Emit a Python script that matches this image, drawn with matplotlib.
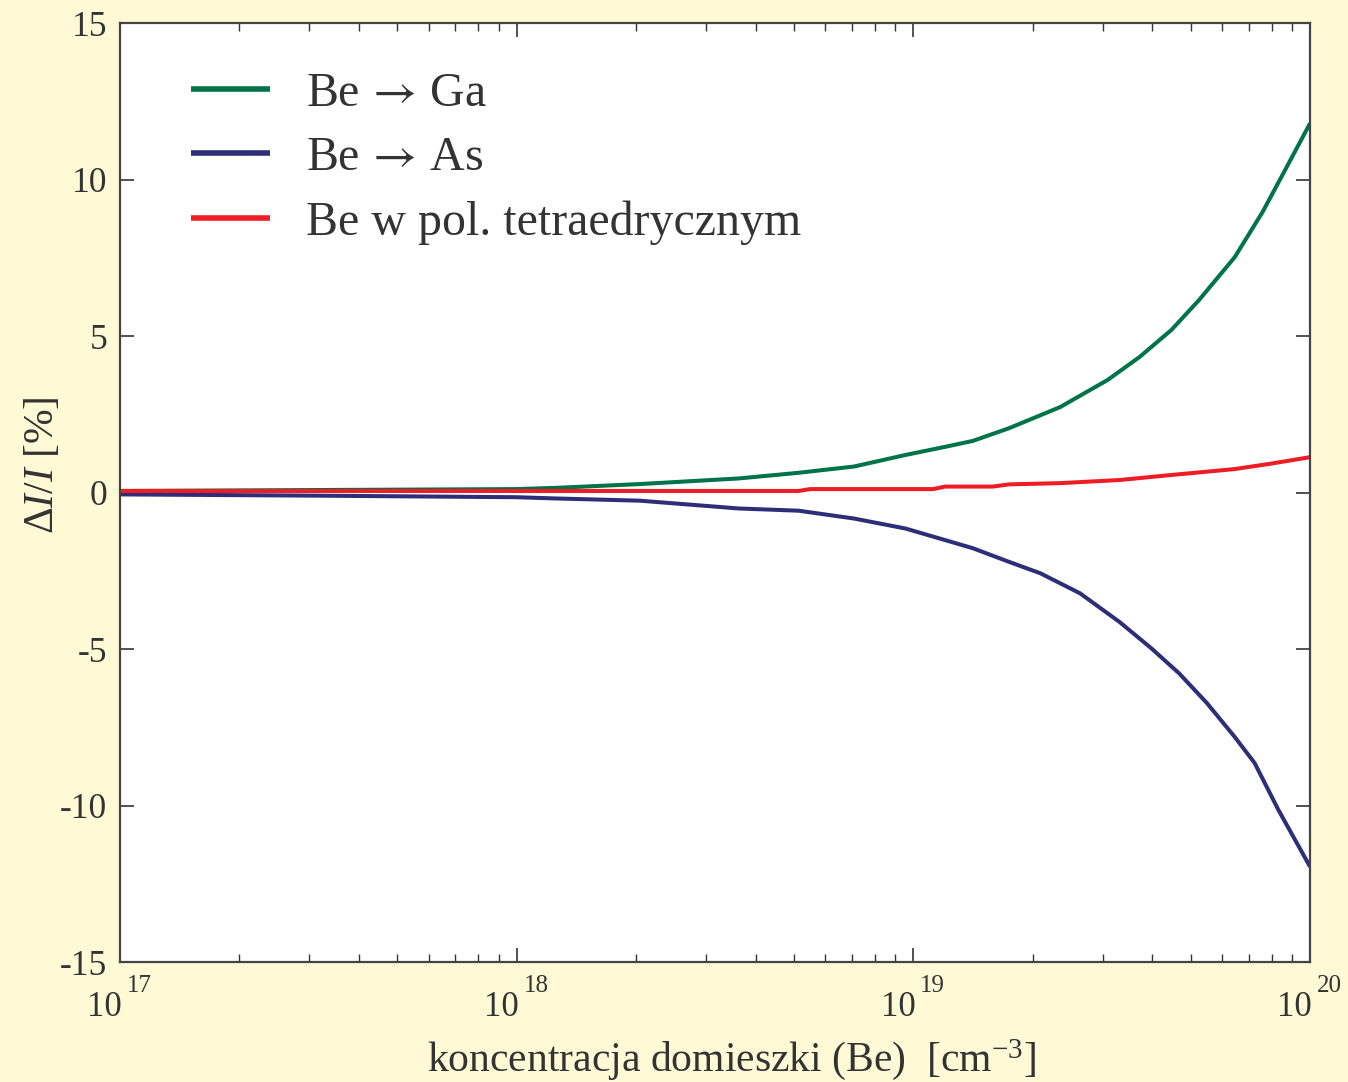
import numpy as np
import matplotlib
matplotlib.use("Agg")
import matplotlib.pyplot as plt
import matplotlib.transforms as mtransforms
from matplotlib.ticker import LogLocator, NullFormatter, FixedLocator

plt.rcParams['font.family'] = ['Liberation Serif', 'DejaVu Serif']
plt.rcParams['mathtext.fontset'] = 'custom'
plt.rcParams['mathtext.rm'] = 'Liberation Serif'
plt.rcParams['mathtext.it'] = 'Liberation Serif:italic'
plt.rcParams['axes.unicode_minus'] = False

# log10 of concentration and dI/I [%]
ga_logx = [17.0, 17.5, 18.0, 18.1, 18.31, 18.56, 18.71, 18.85, 18.98, 19.08, 19.15,
           19.24, 19.37, 19.49, 19.57, 19.65, 19.72, 19.81, 19.88, 19.93, 20.0]
ga_val = [0.05, 0.08, 0.11, 0.15, 0.27, 0.45, 0.63, 0.83, 1.2, 1.46, 1.65,
          2.05, 2.73, 3.6, 4.33, 5.19, 6.15, 7.52, 8.96, 10.14, 11.8]

as_logx = [17.0, 17.5, 18.0, 18.1, 18.31, 18.56, 18.71, 18.85, 18.98, 19.08, 19.15,
           19.24, 19.32, 19.42, 19.52, 19.6, 19.67, 19.74, 19.81, 19.86, 19.92, 20.0]
as_val = [-0.06, -0.1, -0.15, -0.19, -0.26, -0.51, -0.58, -0.83, -1.15, -1.52, -1.78,
          -2.21, -2.58, -3.22, -4.14, -4.98, -5.78, -6.73, -7.81, -8.64, -10.14, -11.96]

tet_logx = [17.0, 18.0, 18.71, 18.74, 19.05, 19.08, 19.2, 19.24, 19.37, 19.52,
            19.65, 19.81, 19.9, 20.0]
tet_val = [0.05, 0.05, 0.05, 0.11, 0.11, 0.19, 0.19, 0.26, 0.3, 0.4,
           0.56, 0.75, 0.92, 1.13]

decades = [17, 18, 19, 20]
labels = [r'Be $\!\rightarrow\!$ Ga', r'Be $\!\rightarrow\!$ As', 'Be w pol. tetraedrycznym']
colors = ['#00734A', '#2E2E78', '#EE1C25']

bg = '#FFF9D6'
ink = '#333333'

fig = plt.figure(figsize=(13.48, 10.82), dpi=100, facecolor=bg)
ax = fig.add_axes([0.089, 0.1109, 0.8829, 0.8678])
ax.set_facecolor('white')

for lx, v, lab, c in zip([ga_logx, as_logx, tet_logx], [ga_val, as_val, tet_val], labels, colors):
    ax.plot(10 ** np.array(lx), v, color=c, lw=2.9, label=lab, solid_capstyle='butt')

ax.set_xscale('log')
ax.set_xlim(1e17, 1e20)
ax.set_ylim(-15, 15)
ax.yaxis.set_major_locator(FixedLocator([-15, -10, -5, 0, 5, 10, 15]))
ax.xaxis.set_minor_locator(LogLocator(base=10, subs=np.arange(2, 10), numticks=20))
ax.xaxis.set_minor_formatter(NullFormatter())
ax.set_xticks([10.0 ** d for d in decades])
ax.set_xticklabels([''] * len(decades))

ax.tick_params(which='both', direction='in', top=True, right=True, colors=ink)
ax.tick_params(which='major', length=10, width=1.2, labelsize=25.5, pad=9)
ax.tick_params(which='minor', length=6, width=1.0)
for s in ax.spines.values():
    s.set_color('#444444')
    s.set_linewidth(1.6)

# "10" with a high superscript, as in the original
blend = mtransforms.blended_transform_factory(ax.transData, ax.transAxes)
for d in decades:
    base = mtransforms.offset_copy(blend, fig=fig, x=1.4, y=-39, units='points')
    sup = mtransforms.offset_copy(blend, fig=fig, x=5.0, y=-21.6, units='points')
    ax.text(10.0 ** d, 0, '10', transform=base, ha='right', va='baseline',
            fontsize=25, color=ink)
    ax.text(10.0 ** d, 0, str(d), transform=sup, ha='left', va='baseline',
            fontsize=18, color=ink)

ax.set_xlabel(r'koncentracja domieszki (Be)  [cm$^{-3}$]', fontsize=30, color=ink)
ax.xaxis.set_label_coords(0.514, -0.080)
ax.set_ylabel(r'$\Delta I/I$ [%]', fontsize=30, color=ink)
ax.yaxis.set_label_coords(-0.049, 0.529)

leg = ax.legend(loc='upper left', bbox_to_anchor=(0.06, 0.948), frameon=False, fontsize=34.5,
                handlelength=1.65, handletextpad=0.75, labelspacing=0.42, borderpad=0,
                borderaxespad=0)
for t in leg.get_texts():
    t.set_color(ink)
    t.set_math_fontfamily('stix')
for h in leg.get_lines():
    h.set_linewidth(4)

fig.savefig('out.png', dpi=100, facecolor=bg)
